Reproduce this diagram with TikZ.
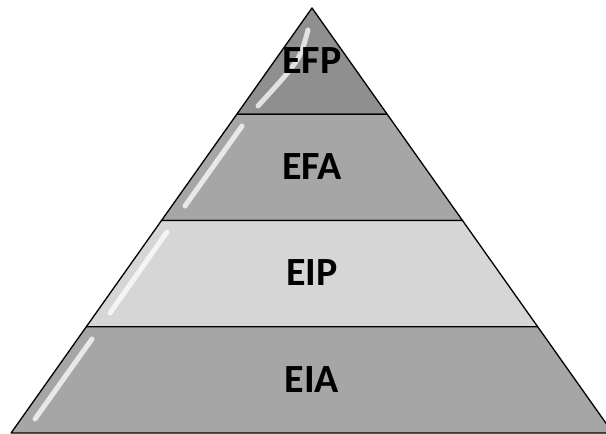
\documentclass[tikz,border=0pt]{standalone}
\usepackage{fontspec}
\setmainfont{Carlito}
\begin{document}
\begin{tikzpicture}[x=1pt,y=-1pt,
  layer/.style={draw=black,line width=1.3pt,line join=round},
  lbl/.style={font=\fontsize{40}{44}\selectfont\bfseries},
  gloss/.style={white,line width=5pt,line cap=round,opacity=0.75}]
\clip (0,0) rectangle (606,434);
\useasboundingbox (0,0) rectangle (606,434);
% layers, top to bottom
\filldraw[layer,fill=black!44] (312,8) -- (387.2,114.25) -- (236.8,114.25) -- cycle;
\filldraw[layer,fill=black!35] (236.8,114.25) -- (387.2,114.25) -- (462.5,220.5) -- (161.5,220.5) -- cycle;
\filldraw[layer,fill=black!16] (161.5,220.5) -- (462.5,220.5) -- (537.7,326.75) -- (86.3,326.75) -- cycle;
\filldraw[layer,fill=black!35] (86.3,326.75) -- (537.7,326.75) -- (612.9,433) -- (11.1,433) -- cycle;
% glossy streaks on the left edges
\draw[gloss] (308,30) .. controls (300,60) .. (258,106);
\draw[gloss] (242,126) -- (185,206);
\draw[gloss] (167,232) -- (110,313);
\draw[gloss] (92,339) -- (35,419);
% labels
\node[lbl] (efp) at (312,61) {EFP};
\node[lbl] (efa) at (312,167) {EFA};
\node[lbl] (eip) at (312,273) {EIP};
\node[lbl] (eia) at (312,380) {EIA};
\end{tikzpicture}
\end{document}
